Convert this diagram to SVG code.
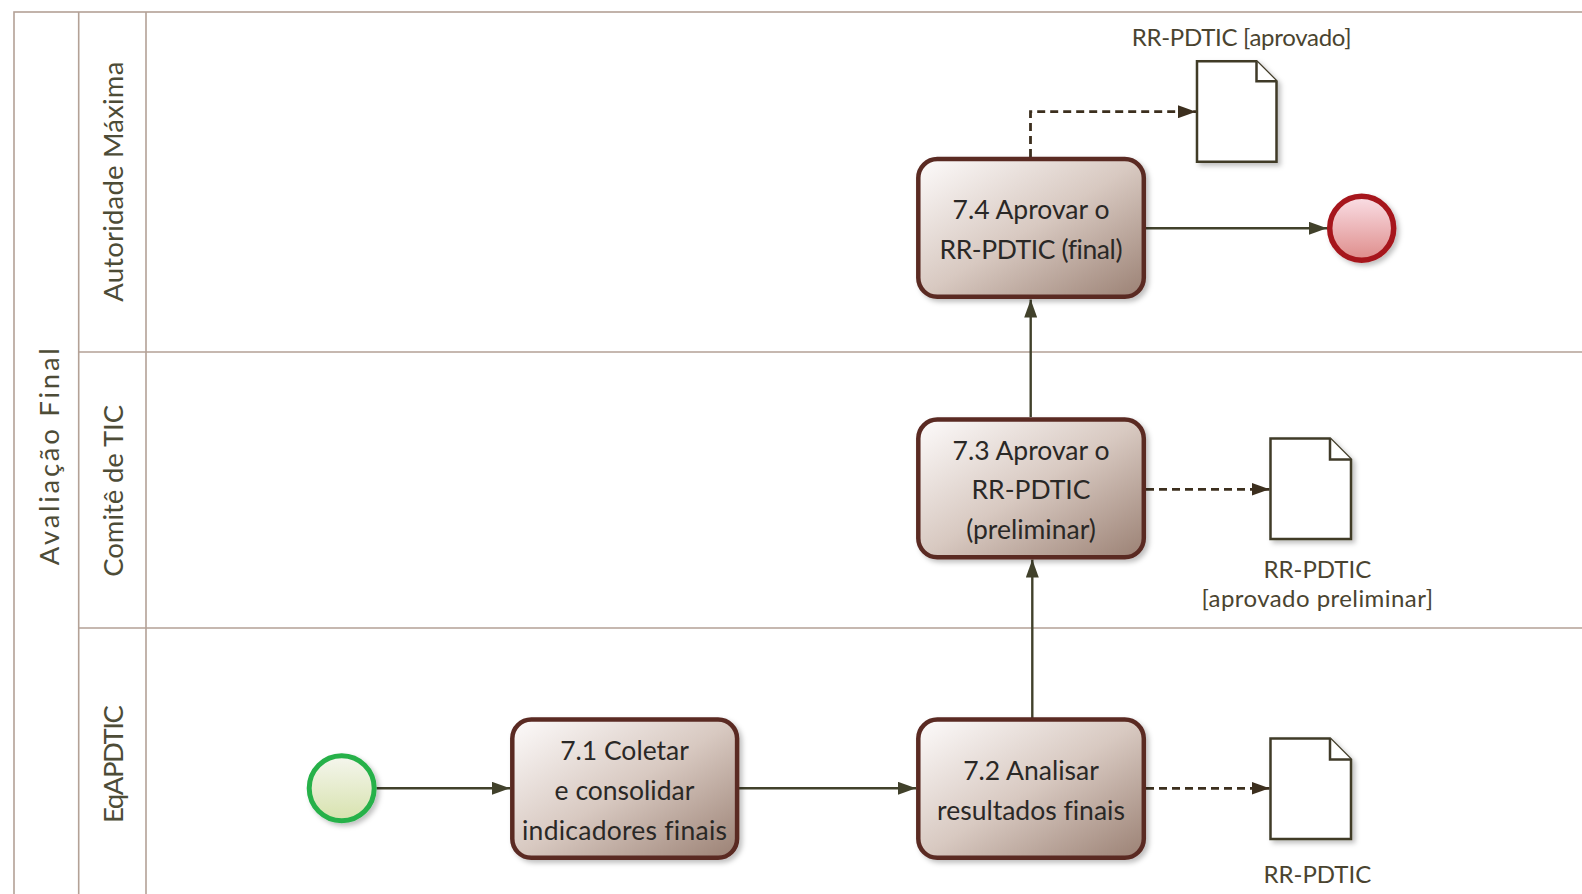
<svg xmlns="http://www.w3.org/2000/svg" width="1582" height="894" viewBox="0 0 1582 894">
<style>
.lane{fill:none;stroke:#b3a196;stroke-width:1.6}
.task rect{fill:url(#gTask);stroke:#5a2a24;stroke-width:4.5;filter:url(#sh)}
text{font-variant-ligatures:none}
.ttxt{font-family:Lato,"Liberation Sans",sans-serif;font-size:26.5px;fill:#2a2826;text-anchor:middle}
.lbl{font-family:Lato,"Liberation Sans",sans-serif;font-size:27.5px;fill:#4d4c37;text-anchor:middle}
.dlbl{font-family:Lato,"Liberation Sans",sans-serif;font-size:24px;fill:#4a4430;text-anchor:middle}
.doc path{fill:#ffffff;stroke:#3f3a28;stroke-width:2.5;stroke-linejoin:miter}
.flow{fill:none;stroke:#41412b;stroke-width:2.4}
.assoc{fill:none;stroke:#3c2f1e;stroke-width:2.8;stroke-dasharray:8 5}
</style>
<defs>
<linearGradient id="gTask" x1="0" y1="0" x2="1" y2="1">
<stop offset="0" stop-color="#fdfbfb"/>
<stop offset="0.5" stop-color="#d8c9c1"/>
<stop offset="1" stop-color="#9b8174"/>
</linearGradient>
<linearGradient id="gStart" x1="0" y1="0" x2="0" y2="1">
<stop offset="0" stop-color="#f5f6ee"/>
<stop offset="1" stop-color="#d7e2ad"/>
</linearGradient>
<linearGradient id="gEnd" x1="0" y1="0" x2="0" y2="1">
<stop offset="0" stop-color="#fadfe6"/>
<stop offset="1" stop-color="#de8c8a"/>
</linearGradient>
<filter id="sh" x="-20%" y="-20%" width="140%" height="140%">
<feDropShadow dx="3" dy="3" stdDeviation="2.5" flood-color="#000" flood-opacity="0.25"/>
</filter>
<marker id="arr" markerUnits="userSpaceOnUse" markerWidth="18" markerHeight="13" refX="18" refY="6.5" orient="auto">
<path d="M0,0 L18,6.5 L0,13 Z" fill="#41412b"/>
</marker>
<marker id="arrD" markerUnits="userSpaceOnUse" markerWidth="18" markerHeight="13" refX="18" refY="6.5" orient="auto">
<path d="M0,0 L18,6.5 L0,13 Z" fill="#3c2f1e"/>
</marker>
</defs>
<rect x="0" y="0" width="1582" height="894" fill="#ffffff"/>
<g id="pool">
<rect x="14" y="12" width="1600" height="900" fill="#f0efe7" class="lane"/>
<line x1="78.7" y1="12" x2="78.7" y2="900" class="lane"/>
<line x1="146" y1="12" x2="146" y2="900" class="lane"/>
<line x1="78.7" y1="352" x2="1600" y2="352" class="lane"/>
<line x1="78.7" y1="628" x2="1600" y2="628" class="lane"/>
<text class="lbl" font-size="33" textLength="217" transform="translate(59.3,456.7) rotate(-90)">Avaliação Final</text>
</g>
<g id="lane-autoridade"><text class="lbl" textLength="240" transform="translate(123.3,181.7) rotate(-90)">Autoridade Máxima</text></g>
<g id="lane-comite"><text class="lbl" textLength="171.7" transform="translate(123.3,490.8) rotate(-90)">Comitê de TIC</text></g>
<g id="lane-eqapdtic"><text class="lbl" textLength="118" transform="translate(123.3,764) rotate(-90)">EqAPDTIC</text></g>
<g id="connectors">
<line class="flow" x1="376.5" y1="788.3" x2="510" y2="788.3" marker-end="url(#arr)"/>
<line class="flow" x1="739" y1="788.3" x2="916" y2="788.3" marker-end="url(#arr)"/>
<line class="flow" x1="1032.3" y1="718" x2="1032.3" y2="559.5" marker-end="url(#arr)"/>
<line class="flow" x1="1030.7" y1="417" x2="1030.7" y2="299.5" marker-end="url(#arr)"/>
<line class="flow" x1="1146" y1="228.3" x2="1327" y2="228.3" marker-end="url(#arr)"/>
<path class="assoc" d="M1030.5,157 L1030.5,111.7 L1196,111.7" marker-end="url(#arrD)"/>
<line class="assoc" x1="1146" y1="489.3" x2="1269.5" y2="489.3" marker-end="url(#arrD)"/>
<line class="assoc" x1="1146" y1="788.3" x2="1269.5" y2="788.3" marker-end="url(#arrD)"/>
</g>
<g id="start"><circle cx="341.7" cy="788.3" r="32.5" fill="url(#gStart)" stroke="#27b14a" stroke-width="5" filter="url(#sh)"/></g>
<g id="end"><circle cx="1361.7" cy="228.3" r="32" fill="url(#gEnd)" stroke="#a6161c" stroke-width="5.5" filter="url(#sh)"/></g>
<g id="t71" class="task"><rect x="512.3" y="719.5" width="224.8" height="138.3" rx="19"/>
<text class="ttxt" x="624.5" y="760">7.1 Coletar</text>
<text class="ttxt" x="624.5" y="800">e consolidar</text>
<text class="ttxt" x="624.5" y="839.5" textLength="205">indicadores finais</text></g>
<g id="t72" class="task"><rect x="918.3" y="719.5" width="225.5" height="138.3" rx="19"/>
<text class="ttxt" x="1031" y="780">7.2 Analisar</text>
<text class="ttxt" x="1031" y="819.5">resultados finais</text></g>
<g id="t73" class="task"><rect x="918.3" y="419.5" width="225.5" height="137.8" rx="19"/>
<text class="ttxt" x="1031" y="459.5">7.3 Aprovar o</text>
<text class="ttxt" x="1031" y="499">RR-PDTIC</text>
<text class="ttxt" x="1031" y="538.5">(preliminar)</text></g>
<g id="t74" class="task"><rect x="918.3" y="159" width="225.5" height="137.8" rx="19"/>
<text class="ttxt" x="1031" y="219.3">7.4 Aprovar o</text>
<text class="ttxt" x="1031" y="259.3" textLength="183">RR-PDTIC (final)</text></g>
<g id="d-aprovado" class="doc"><path d="M1197,61.3 H1256.5 L1276.5,81.3 V161.8 H1197 Z" filter="url(#sh)"/><path d="M1256.5,61.3 V81.3 H1276.5"/>
<text class="dlbl" x="1241.7" y="46" textLength="220">RR-PDTIC [aprovado]</text></g>
<g id="d-preliminar" class="doc"><path d="M1270.5,438.5 H1330 L1351,459.5 V539 H1270.5 Z" filter="url(#sh)"/><path d="M1330,438.5 V459.5 H1351"/>
<text class="dlbl" x="1317.3" y="578.3">RR-PDTIC</text>
<text class="dlbl" x="1317.3" y="607" textLength="231.6">[aprovado preliminar]</text></g>
<g id="d-rr" class="doc"><path d="M1270.5,738.5 H1330 L1351,759.5 V839 H1270.5 Z" filter="url(#sh)"/><path d="M1330,738.5 V759.5 H1351"/>
<text class="dlbl" x="1317.3" y="883.3">RR-PDTIC</text></g>
</svg>
